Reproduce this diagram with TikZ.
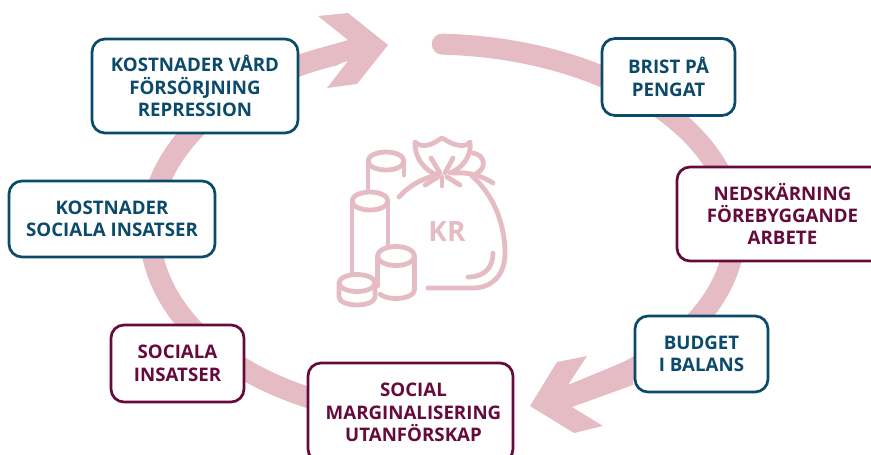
\documentclass[tikz,border=0pt]{standalone}
\usepackage{fontspec}
\setmainfont{Open Sans}
\usepackage{xcolor}
\definecolor{rosa}{HTML}{E5BCC3}
\definecolor{blaa}{HTML}{0B4A6B}
\definecolor{vin}{HTML}{660A3C}
\tikzset{
  ruta/.style={draw,line width=2.7pt,fill=white,rounded corners=13pt,align=center,
    inner sep=0pt,font=\bfseries\fontsize{18.7}{22.4}\selectfont,
    execute at begin node={\vspace*{-3pt}}},
  blaruta/.style={ruta,draw=blaa,text=blaa},
  vinruta/.style={ruta,draw=vin,text=vin},
  ring/.style={draw=rosa,line width=21pt,line cap=round},
  ikon/.style={draw=rosa,line width=4.8pt,line cap=round,line join=round},
}
\begin{document}
\begin{tikzpicture}[x=1pt,y=-1pt]
\useasboundingbox (0,0) rectangle (871,455);
%Ringen
\pgfmathsetmacro{\mx}{430}
\pgfmathsetmacro{\my}{230}
\draw[ring] plot[smooth,samples=50,domain=87.7:-62] ({\mx+305*cos(\x)},{\my-186*sin(\x)});
\draw[ring] plot[smooth,samples=50,domain=245:110] ({\mx+280*cos(\x)},{\my-186*sin(\x)});
%Pilspetsar
\fill[rosa] (297,55) -- (348,40) -- (318,16) -- (348,13) -- (388,45) -- (357,84) -- (327,88) -- (348,61) -- (297,76) -- cycle;
\fill[rosa] (633,358) -- (568,385) -- (587,356) -- (557,362) -- (530,406) -- (574,433) -- (603,426) -- (572,407) -- (633,385) -- cycle;
%Mynten
\foreach \cx/\cy/\rx/\ry in {386/161/18/9,370/201/18/9,396/256/18.5/9.5,357/283/18/8.5}{
  \draw[ikon] (\cx,\cy) ellipse[x radius=\rx,y radius=\ry];
}
\draw[ikon] (368,163) -- (368,188);
\draw[ikon] (404,163) -- (404,175);
\draw[ikon] (352,201) -- (352,272);
\draw[ikon] (388,201) -- (388,245);
\draw[ikon] (377.5,256) -- (377.5,286);
\draw[ikon] (414.5,256) -- (414.5,290) arc[start angle=0,end angle=150,x radius=18.5,y radius=8.5];
\draw[ikon] (339,283) -- (339,297) arc[start angle=180,end angle=0,x radius=18,y radius=8] -- (375,283);
%Pasen
\draw[ikon] (399,197) .. controls (408,187) and (420,179) .. (437,175);
\draw[ikon] (472,176) .. controls (494,195) and (505,225) .. (505,253) .. controls (505,275) and (492,288) .. (473,288) -- (428,288);
\draw[ikon] (493,253) .. controls (493,268) and (484,277) .. (468,277);
\draw[ikon] (438,175) .. controls (426,172) and (414,158) .. (415,142) .. controls (419,146) and (424,146) .. (428,145) .. controls (434,144) and (438,140) .. (442,138) .. controls (446,140) and (451,144) .. (457,145) .. controls (462,146) and (467,146) .. (470,142) .. controls (472,155) and (463,168) .. (450,173);
\draw[ikon] (431,158) -- (440,173);
\draw[ikon] (453,158) -- (445,173);
\draw[ikon] (473,153) .. controls (485,155) and (487,168) .. (477,173);
\draw[ikon] (453,173) .. controls (470,172) and (482,176) .. (493,183);
\draw[ikon] (425,185) -- (438,177);
\draw[ikon] (460,185) -- (447,177);
\draw[ikon] (442,177) -- (442,186);
\node[text=rosa,font=\bfseries\fontsize{28}{28}\selectfont] (kr) at (447,232) {KR};
%Rutorna
\node[blaruta,minimum width=206pt,minimum height=94pt] (vard) at (195,86) {KOSTNADER VÅRD\\FÖRSÖRJNING\\REPRESSION};
\node[blaruta,minimum width=133pt,minimum height=77pt] (brist) at (668.5,77) {BRIST PÅ\\PENGAT};
\node[vinruta,minimum width=211pt,minimum height=94pt] (nedskarning) at (782.5,214) {NEDSKÄRNING\\FÖREBYGGANDE\\ARBETE};
\node[blaruta,minimum width=133pt,minimum height=76pt] (budget) at (701.5,354) {BUDGET\\I BALANS};
\node[vinruta,minimum width=205pt,minimum height=99pt] (social) at (410.5,412.5) {\hspace*{6pt}SOCIAL\\\hspace*{6pt}MARGINALISERING\\\hspace*{6pt}UTANFÖRSKAP};
\node[vinruta,minimum width=133pt,minimum height=77pt] (insatser) at (177.5,363.5) {SOCIALA\\INSATSER};
\node[blaruta,minimum width=206pt,minimum height=76pt] (kostnader) at (112,219) {KOSTNADER\\SOCIALA INSATSER};
\end{tikzpicture}
\end{document}
